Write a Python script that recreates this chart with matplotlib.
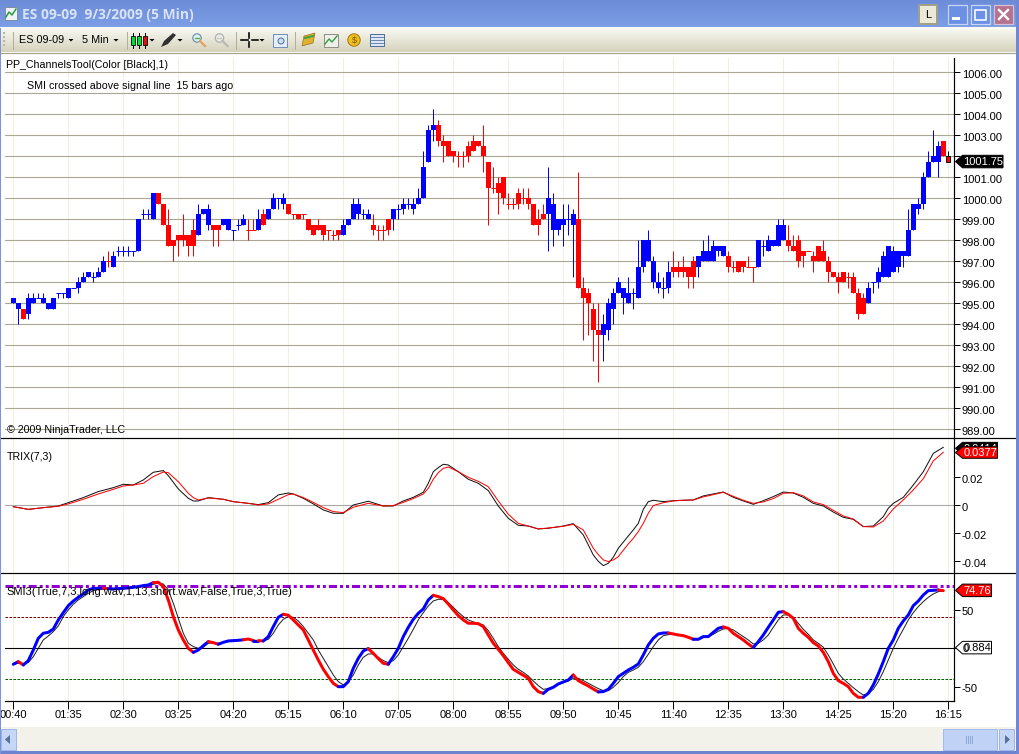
import matplotlib
matplotlib.use("Agg")
import matplotlib.pyplot as plt
from matplotlib.patches import Rectangle, Polygon, Circle
from matplotlib.transforms import ScaledTranslation
import numpy as np

# ---------- price bars (5 min) ----------
body_top = [
 995.25,995,994.75,995.25,995.25,995.25,995.25,995,995.25,995.5,
 995.5,995.75,995.75,996,996.25,996.5,996.25,996.5,997,997,
 997.25,997.5,997.5,997.5,997.5,999,999.25,999.25,1000.25,1000.25,
 999.75,998.75,998,998.25,998.25,998.25,998.5,999.25,999.5,999.5,
 998.75,998.75,999,999,998.5,998.75,999,998.5,998.5,999,
 999.25,999.5,1000,1000,1000,999.75,999.25,999.25,999.25,999,
 998.75,998.75,998.75,998.5,998.25,998.5,998.75,999,999.75,999.75,
 999.25,999.25,998.75,998.5,998.5,999,999.5,999.5,999.75,999.75,
 999.75,1000,1001.5,1003.25,1003.5,1003.5,1002.75,1002.75,1002.25,1002,
 1002,1002.5,1002.75,1002.75,1002.5,1001.75,1000.5,1000.75,1001,999.75,
 999.75,1000.25,1000,1000,999.75,999,999.25,1000,999.75,999,
 999,999,999.25,999,995.75,995.5,994.75,993.75,994,995,
 995.5,996,995.75,995.5,995.5,996.75,998,998,997,996,
 995.75,996.5,996.75,996.75,996.75,996.75,997,997.25,997.5,997.5,
 997.75,997.75,997.75,997.25,996.75,997,997,996.75,996.75,998,
 997.75,998,998,998.75,998.75,998,997.75,998,997.5,997.5,
 997.25,997.75,997.5,997,996.5,996.25,996.5,996.25,996.25,995.5,
 995.25,995.75,996,996.5,997.25,997.75,997.5,997.5,997.5,998.5,
 999.75,999.75,1001,1001.75,1002,1002.5,1002.75,1002]
body_bot = [
 995,994.75,994.25,994.5,995,995.25,995,994.75,994.75,995.5,
 995.5,995.25,995.75,995.75,996,996.25,996.25,996.25,996.5,997,
 996.75,997.5,997.5,997.5,997.5,997.5,999.25,999.25,999,999.75,
 998.75,997.75,997.75,998,998,997.75,997.75,998.25,999.25,998.75,
 998.5,998.5,998.75,998.5,998.5,998.75,998.75,998.5,998.5,998.5,
 998.75,999,999.5,1000,999.75,999.25,999.25,999,999.25,998.5,
 998.25,998.5,998.25,998.5,998.25,998.25,998.25,998.75,999,999.25,
 999.25,999,998.5,998.5,998.5,998.5,999,999.5,999.5,999.75,
 999.5,999.75,1000,1001.75,1003.25,1002.75,1002.5,1002,1002,1002,
 1002,1002,1002.25,1002.5,1002,1000.5,1000.5,1000.25,1000,999.75,
 999.75,999.75,1000,999.75,998.75,998.75,999,999.25,998.5,998.5,
 998.75,999,998.75,995.75,995.25,995,993.75,993.5,993.5,993.75,
 994.75,995.5,995.25,995,995.5,995.25,996.75,997,996,995.75,
 995.75,995.75,996.5,996.5,996.5,996.25,996.25,996.75,997,997,
 997,997.5,997.25,996.75,996.75,996.5,996.75,996.75,996.75,996.75,
 997.75,997.5,997.75,997.75,998,997.75,997.5,997,997.25,997.5,
 997,997,997,996.5,996.25,996,996,996.25,995.5,994.5,
 994.5,995,996,996,996.25,996.25,996.5,996.75,997.25,997.25,
 998.5,999.5,999.75,1001,1001.75,1001.75,1002,1001.75]
bar_high = [
 995.25,995,994.75,995.5,995.5,995.5,995.5,995,995.25,995.5,
 995.5,995.75,995.75,996.25,996.5,996.5,996.5,996.75,997.25,997.5,
 997.5,997.75,997.75,997.75,997.5,999,999.5,999.5,1000.25,1000.25,
 999.75,999.5,998,998.25,999.25,998.25,999,999.75,999.5,999.75,
 998.75,998.75,999,999,998.5,999,999.25,999,999,999.5,
 999.5,999.5,1000.25,1000,1000.25,999.75,999.25,999.25,999.25,999,
 998.75,999,998.75,998.5,998.5,998.5,999,999,1000,1000,
 999.5,999.5,999.25,998.75,998.75,999,999.5,999.75,1000,1000,
 1000,1000.5,1002.25,1003.5,1004.25,1003.75,1003,1002.75,1002.25,1002.25,
 1002.25,1002.75,1003,1002.75,1003.5,1001.75,1001.5,1001,1001,1000.25,
 1000,1000.5,1000.5,1000.5,999.75,999.5,999.75,1001.5,1000.25,999,
 999.75,999.75,999.5,1001.25,996.25,995.75,995,995,994.5,995.25,
 995.75,996.25,995.75,996.25,995.75,998,998,998.5,997.25,996.5,
 996.25,997,997.5,997,997.25,996.75,997.25,997.25,998,998.25,
 998,997.75,997.75,997.5,997,997,997,997.25,996.75,998,
 998,998.25,998,999,999,998.75,998.25,998.25,997.5,997.5,
 997.5,997.75,998,997.25,996.5,996.5,996.5,996.5,996.5,995.75,
 995.5,996,996,996.75,997.5,997.75,997.75,997.5,997.5,999.5,
 999.75,1000,1001.25,1002.25,1003.25,1002.75,1002.75,1002.25]
bar_low = [
 995,994,994.25,994.25,995,995.25,995,994.75,994.75,995.25,
 995.25,995.25,995.75,995.5,996,996.25,996,996.25,996.5,996.75,
 996.75,997.25,997.25,997.25,997.25,997.5,999,999,999,999.75,
 998.75,997.75,997,997.25,997.75,997.25,997.25,998.25,999.25,998.5,
 997.75,997.75,998.75,998.5,998,998.5,998.75,998,998.5,998.5,
 998.75,999,999.5,999.5,999.5,999.25,999,999,999,998.5,
 998.25,998.5,998,998,998,998,998.25,998.75,999,999,
 999,999,998.25,998,998,998.25,998.5,999,999.25,999.5,
 999.25,999.75,1000,1001.75,1002.75,1002.5,1001.75,1002,1001.75,1001.5,
 1001.5,1001.75,1002.25,1002.5,1001.25,998.75,1000.25,999.25,999.75,999.5,
 999.5,999.5,999.75,999.5,998.75,998.25,999,997.5,997.75,998.25,
 997.75,998.25,996.25,995.75,993.25,993.5,992.25,991.25,992.25,993.25,
 994,995.5,994.5,995,994.75,995.25,996.5,997,995.75,995.5,
 995.25,995.5,996.25,996.25,996.25,995.75,995.75,996.25,997,997,
 997,997.25,997.25,996.5,996.5,996.5,996.5,996.75,996,996.75,
 997.25,997.5,997.75,997.75,998,997.5,997.5,996.75,996.75,997.5,
 996.5,997,997,996,996.25,995.5,996,995.75,995.5,994.25,
 994.5,995,995.5,995.75,996.25,996.25,996.5,996.5,996.75,997.25,
 998.5,999.25,999.5,1001,1001.75,1001,1002,1001.75]
bar_dir = ("bbrbbbbbbb" "bbbbbbbbbr" "bbbbbbbbbr" "rrrrrrrbbb" "rrbbbbbrrb"
           "rbbbbrrrrr" "rrrrrrbbbb" "bbrrrrbbbb" "bbbbbrrrrr" "rrrrrrrrrr"
           "rrrrrrrbbb" "bbbrrrrrbb" "bbbbbbbbbb" "bbrrrrrbbb" "bbbrrrrrrb"
           "bbbbbrrrrr" "rrrrrrrrrr" "rbbbbbbbbb" "bbbbbbrr")
last_price = 1001.75

# ---------- TRIX(7,3) ----------
trix_idx = [0,3,6,9,11,14,17,20,22,24,26,28,30,31,33,35,36,37,39,42,44,47,49,51,53,55,56,58,60,62,64,
 66,68,71,74,76,78,80,82,83,84,85,86,87,89,91,93,95,97,99,101,103,105,107,110,112,114,116,117,118,119,120,121,123,124,125,126,127,128,130,132,
 134,136,138,140,142,144,146,148,150,152,154,156,158,160,162,164,166,168,170,172,174,175,176,178,180,182,184,186]
trix_main = [-.0010,-.0029,-.0017,-.0005,.0019,.0055,.0098,.0126,.0150,.0145,.0181,.0236,.0248,.0212,.0117,.0050,.0031,.0031,.0055,.0043,.0026,.0014,.0005,.0019,.0074,.0088,.0081,.0050,.0010,-.0033,-.0057,
 -.0057,.0002,.0029,-.0005,-.0005,.0031,.0057,.0093,.0157,.0240,.0269,.0293,.0288,.0240,.0186,.0157,.0105,-.0005,-.0093,-.0143,-.0148,-.0169,-.0164,-.0148,-.0131,-.0212,-.0355,-.0400,-.0431,-.0414,-.0371,-.0307,-.0219,-.0176,-.0129,-.0029,.0026,.0036,.0026,.0033,
 .0036,.0038,.0067,.0081,.0095,.0057,.0031,.0007,.0033,.0062,.0095,.0088,.0057,.0014,-.0005,-.0048,-.0086,-.0100,-.0152,-.0148,-.0081,-.0021,.0014,.0057,.0145,.0240,.0371,.0414]
trix_sig = [-.0010,-.0029,-.0017,-.0007,.0010,.0043,.0081,.0114,.0138,.0145,.0157,.0205,.0238,.0233,.0169,.0086,.0055,.0038,.0052,.0043,.0026,.0014,.0002,.0010,.0043,.0076,.0081,.0055,.0021,-.0017,-.0045,
 -.0052,-.0014,.0014,-.0005,-.0002,.0021,.0048,.0081,.0121,.0186,.0233,.0264,.0274,.0240,.0200,.0171,.0133,.0031,-.0064,-.0129,-.0148,-.0169,-.0162,-.0150,-.0136,-.0176,-.0307,-.0352,-.0390,-.0402,-.0390,-.0367,-.0276,-.0236,-.0188,-.0129,-.0057,-.0002,.0019,.0031,
 .0036,.0038,.0060,.0076,.0093,.0064,.0036,.0014,.0024,.0048,.0086,.0090,.0067,.0024,.0005,-.0036,-.0076,-.0098,-.0152,-.0155,-.0112,-.0069,-.0026,.0038,.0110,.0190,.0317,.0379]

# ---------- SMI ----------
smi_main = [-20.6,-17.2,-21.5,-15.9,-2.2,12.9,19.4,20.6,24.9,36.6,46,55,61,65.8,70.1,75.3,77.4,77.4,77.4,77,
 76.6,77,77.4,78,78.7,79.6,80.9,81.7,84.7,85.2,79.6,62.4,40.9,23.7,10.8,0,-5.2,-2.2,3.4,8.6,
 7.3,5.2,7.7,9.5,9.9,10.3,11,12,9.9,9.9,9.5,15.1,28,40,43.9,42.6,36.6,30.1,23.7,10.8,
 -2.2,-15.1,-27,-36.6,-45.2,-49.5,-49.5,-43,-25.8,-12.9,-3.4,-0.4,-6.5,-13.3,-19.4,-20.6,-10.8,0,15.1,27.1,
 37.4,45.2,50.8,62.4,68.4,66.7,64.1,57.2,49.5,42.2,36.6,32.3,32.3,31.8,28,17.2,6.5,-1.3,-9.5,-18.5,
 -27.1,-31,-34.8,-38.7,-49.5,-55.9,-58.1,-52.9,-50.3,-46,-43.4,-40.9,-34.4,-41.7,-45.2,-48.6,-52.5,-56.3,-55.9,-52.9,
 -45.2,-36.6,-32.3,-28,-24.5,-20.2,-8.6,4.3,12.9,18.5,19.8,19.8,18.5,17.2,16.3,14.2,11.6,11.6,15.1,15.1,
 20.6,25.8,27.5,25.8,19.4,15.1,10.8,5.6,0.9,8.6,17.2,27.1,36.6,46.5,47.3,43.9,38.7,25.8,19.4,14.2,
 7.3,3,-5.2,-17.2,-32.3,-41.7,-45.2,-49.5,-58.1,-63.2,-63.2,-58.1,-47.3,-33.1,-17.2,0,10.8,25.8,35.3,43,
 55,61,68.8,74.4,74.8,75.3,74.4]
smi_sig = [-20.6,-19.4,-19.4,-18.5,-10.8,0,10.8,15.9,21.5,28.8,40.9,49.5,56.8,62.4,66.7,71,74.4,75.7,76.6,76.6,
 76.6,77,77,77.4,78.3,79.6,80.4,81.7,82.6,83.9,83,75.3,58.1,38.7,19.4,6.5,2.2,0,1.3,6.5,
 7.3,6.5,7.7,8.6,9.5,9.9,10.8,11.6,10.8,9.9,9.5,11.6,19.4,30.1,37.4,40.9,40,35.3,28,19.4,
 10.8,-2.2,-12.9,-23.7,-34.4,-43,-47.3,-43,-34.4,-21.5,-11.6,-7.3,-7.3,-11.6,-15.9,-18.5,-15.9,-8.6,2.2,12.9,
 24.5,36.6,46,54.6,61.1,63.2,63.2,58.9,52.9,46.5,40.9,36.6,34,32.3,30.1,22.8,12.9,2.2,-6.5,-14.2,
 -21.5,-27.1,-31,-35.7,-42.2,-48.2,-52.9,-52,-49.5,-46.9,-44.3,-42.2,-38.7,-38.7,-41.7,-45.2,-48.6,-52,-54.6,-54.6,
 -50.3,-44.3,-36.6,-31,-28,-24.5,-17.2,-7.7,2.2,10.8,16.3,17.6,18.1,17.2,17.2,15.1,12.9,12.5,13.8,15.1,
 18.1,21.9,24.9,25.8,23.7,19.4,15.1,10.8,5.6,6.5,10.8,17.2,27.1,36.6,43,43,40,32.3,24.5,18.1,
 10.8,6.5,1.3,-8.6,-20.2,-32.3,-39.6,-45.2,-50.8,-55.9,-60.2,-58.9,-52.9,-43,-30.1,-15.1,0,12.9,24.5,36.6,
 46,53.8,60.2,65.8,70.1,73.1,74.4]
smi_upper, smi_zero, smi_lower, smi_top = 40, 0, -40, 80
smi_flag = 74.76
smi_other = 0.884
trix_flag, trix_flag2 = 0.0377, 0.0414

# ---------- tick labels ----------
time_labels = ["00:40","01:35","02:30","03:25","04:20","05:15","06:10","07:05","08:00",
               "08:55","09:50","10:45","11:40","12:35","13:30","14:25","15:20","16:15"]
time_ticks = [11*k for k in range(len(time_labels))]
price_ticks = list(range(989, 1007))
trix_ticks = [-0.04, -0.02, 0, 0.02]
smi_ticks = [-50, 0, 50]

# ---------- layout ----------
W, H = 1020, 754
FONT = "Liberation Sans"
plt.rcParams["font.family"] = FONT
fig = plt.figure(figsize=(W/100, H/100), dpi=100, facecolor="white")

BLUE, RED = "#0000ff", "#ff0000"
GRID_H, GRID_V = "#a9a694", "#f1f0e0"
LEFT, RIGHT = 5.0, 954.3
X0, DX = 13.3, 5.0
xlim = ((LEFT-X0)/DX, (RIGHT-X0)/DX)
PX = 1/100*72  # points per pixel

def axes_px(x0, y0, x1, y1):
    return fig.add_axes([x0/W, 1-y1/H, (x1-x0)/W, (y1-y0)/H], facecolor="none")

P_TOP, P_BOT = 58.0, 438.3
T_BOT, S_BOT = 573.3, 701.0

ax_p = axes_px(LEFT, P_TOP, RIGHT, P_BOT)
ax_t = axes_px(LEFT, P_BOT, RIGHT, T_BOT)
ax_s = axes_px(LEFT, T_BOT, RIGHT, S_BOT)

ax_p.set_ylim(1006-(P_BOT-72.3)/21, 1006+(72.3-P_TOP)/21)
ax_t.set_ylim((505.3-T_BOT)/1400, (505.3-P_BOT)/1400)
ax_s.set_ylim((648.3-S_BOT)/0.775, (648.3-T_BOT)/0.775)

for ax in (ax_p, ax_t, ax_s):
    ax.set_xlim(*xlim)
    ax.set_xticks(time_ticks)
    for s in ("top", "left"):
        ax.spines[s].set_visible(False)
    ax.spines["bottom"].set_visible(False)
    ax.spines["right"].set_linewidth(PX*1.2)
    ax.yaxis.tick_right()
    ax.tick_params(axis="y", length=4, width=PX, pad=1.5, labelsize=8.0, colors="black")
    ax.tick_params(axis="x", length=0, labelbottom=False)
    ax.xaxis.grid(True, color=GRID_V, lw=PX*1.1, zorder=0)
    ax.set_axisbelow(True)

# price panel
ax_p.set_yticks(price_ticks)
ax_p.set_yticklabels(["" if p == 1002 else f"{p:.2f}" for p in price_ticks])
ax_p.yaxis.grid(True, color=GRID_H, lw=PX*1.1)
idx = np.arange(len(body_top))
top = np.array(body_top); bot = np.array(body_bot)
hi = np.array(bar_high); lo = np.array(bar_low)
cols = np.array([BLUE if c == "b" else RED for c in bar_dir])
wick_cols = cols.copy()
wick_cols[-1] = "black"
ax_p.vlines(idx, lo, hi, colors=wick_cols, lw=PX*1.0, zorder=3)
ax_p.bar(idx[:-1], (top-bot)[:-1], bottom=bot[:-1], width=1.0, color=cols[:-1], lw=0, zorder=4)
ax_p.bar(idx[-1], top[-1]-bot[-1], bottom=bot[-1], width=0.8, color=RED, edgecolor="black", lw=PX*0.9, zorder=4)
doji = top == bot
ax_p.hlines(top[doji], idx[doji]-0.5, idx[doji]+0.5, colors=cols[doji], lw=PX*1.0, zorder=4)

# trix panel
ax_t.set_yticks(trix_ticks)
ax_t.set_yticklabels(["-0.04", "-0.02", "0", "0.02"])
ax_t.axhline(0, color="#a8a8a8", lw=PX*1.1, zorder=1)
ax_t.plot(trix_idx, trix_main, color="#101010", lw=PX*1.0, zorder=3)
ax_t.plot(trix_idx, trix_sig, color=RED, lw=PX*1.0, zorder=4)

# smi panel
ax_s.set_yticks(smi_ticks)
ax_s.set_yticklabels(["-50", "0", "50"])
ax_s.axhline(smi_zero, color="black", lw=PX*1.1, zorder=2)
ax_s.axhline(smi_upper, color="#7a0000", lw=PX*1.0, ls=(0, (2.6, 1.4)), zorder=2)
ax_s.axhline(smi_lower, color="#005a00", lw=PX*1.0, ls=(0, (2.6, 1.4)), zorder=2)
ax_s.axhline(smi_top, color="#9400d3", lw=PX*3.0, ls=(0, (2.7, 1.0, 1.0, 1.0, 1.0, 1.0)), zorder=3)
si = np.arange(len(smi_main))
ax_s.plot(si, smi_sig, color="#202020", lw=PX*1.0, zorder=4)
start = 0
for i in range(1, len(smi_main)+1):
    if i == len(smi_main) or bar_dir[i] != bar_dir[start+1]:
        ax_s.plot(si[start:i], smi_main[start:i], color=BLUE if bar_dir[start+1] == "b" else RED,
                  lw=PX*3.0, zorder=5, solid_capstyle="round", solid_joinstyle="round")
        start = i-1
ax_s.set_xticks(time_ticks)
ax_s.set_xticklabels(time_labels)
ax_s.spines["bottom"].set_visible(True)
ax_s.spines["bottom"].set_linewidth(PX*1.2)
ax_s.tick_params(axis="x", length=6, width=PX, pad=0.4, labelsize=8.0, labelbottom=True)
for lbl in ax_s.get_xticklabels():
    lbl.set_clip_on(False)

# nudge the right-hand tick labels to sit just below their ticks
nudge = ScaledTranslation(0, -1.3/100, fig.dpi_scale_trans)
for ax in (ax_p, ax_t, ax_s):
    for lbl in ax.get_yticklabels():
        lbl.set_transform(lbl.get_transform() + nudge)

TXT = dict(fontsize=7.65, va="center", ha="left", color="black")

# ---------- window chrome and overlays (pixel coordinates) ----------
ov = fig.add_axes([0, 0, 1, 1], facecolor="none", zorder=10)
ov.set_xlim(0, W); ov.set_ylim(H, 0); ov.axis("off")
bg = fig.add_axes([0, 0, 1, 1], facecolor="white", zorder=-5)
bg.set_xlim(0, W); bg.set_ylim(H, 0); bg.axis("off")

def grad(a, x0, y0, x1, y1, c_top, c_bot, z=1):
    c0 = np.array(matplotlib.colors.to_rgb(c_top)); c1 = np.array(matplotlib.colors.to_rgb(c_bot))
    t = np.linspace(0, 1, 32)[:, None, None]
    img = c0[None, None, :]*(1-t) + c1[None, None, :]*t
    a.imshow(img, extent=(x0, x1, y1, y0), aspect="auto", zorder=z, interpolation="bilinear")

def rect(a, x0, y0, x1, y1, fc, ec="none", lw=0, z=2):
    a.add_patch(Rectangle((x0, y0), x1-x0, y1-y0, fc=fc, ec=ec, lw=lw, zorder=z))

# title bar
grad(ov, 0, 0, W, 28, "#6d8cd8", "#7c9fe6")
ov.text(22, 15, "ES 09-09  9/3/2009 (5 Min)", fontsize=9.9, fontweight="bold", family="Open Sans",
        color="#d9e3f6", va="center", ha="left", zorder=3)
rect(ov, 5, 7, 17, 20, "#eef2fa", "#8090a0", PX)
ov.plot([6, 9, 12, 16], [17, 12, 15, 9], color="#2a9a3a", lw=PX*1.5, zorder=4)
# window buttons
rect(ov, 919, 5, 937, 24, "#ece9d8", "#a09f8c", PX*2)
ov.text(928, 15, "L", fontsize=8, ha="center", va="center", zorder=4)
rect(ov, 948, 5, 967, 24, "#6c90e4", "#c6d5f4", PX*1.2)
rect(ov, 952, 17, 960, 20, "white", z=4)
rect(ov, 971, 5, 990, 24, "#6c90e4", "#c6d5f4", PX*1.2)
rect(ov, 975, 10, 986, 20, "none", "white", PX*1.6, z=4)
rect(ov, 994, 5, 1013, 24, "#b4728f", "#d8c0d0", PX*1.2)
ov.plot([999, 1008], [10, 19], color="white", lw=PX*2.4, zorder=4)
ov.plot([999, 1008], [19, 10], color="white", lw=PX*2.4, zorder=4)

# toolbar
grad(ov, 0, 28, 1016, 52.5, "#fbfaf4", "#d5d3bd")
ov.plot([0, 1016], [52.5, 52.5], color="#a5a58a", lw=PX*1.2, zorder=3)
ov.plot([4, 4], [32, 48], color="#b8b6a4", lw=PX*2, ls=(0, (1, 1)), zorder=3)
for x in (13, 127, 236, 295):
    ov.plot([x, x], [32, 49], color="#b0ae9c", lw=PX, zorder=3)
ov.text(19, 40, "ES 09-09", fontsize=7.8, va="center", zorder=3)
ov.text(82, 40, "5 Min", fontsize=7.8, va="center", zorder=3)
for x in (71, 116, 152, 180, 262):
    ov.add_patch(Polygon([[x-2.5, 39], [x+2.5, 39], [x, 41.5]], fc="black", zorder=3))
for x, c in ((132.7, "#00e030"), (139, "#00e030"), (144.7, "#e01010")):
    ov.plot([x, x], [33, 48], color="black", lw=PX, zorder=3)
    rect(ov, x-2, 36, x+2, 45, c, "black", PX*0.8, z=4)
ov.add_patch(Polygon([[161, 47], [164, 41], [173, 33], [176, 35], [168, 44]], fc="#303030", zorder=3))
for x, c in ((197, "#58b050"), (219.5, "#c8c8c0")):
    ov.add_patch(Circle((x, 38), 4.2, fc="#dff0f8" if x < 200 else "#ececec", ec="#7090a8" if x < 200 else "#b0b0a8", lw=PX*1.2, zorder=3))
    ov.plot([x-2, x+2], [38, 38], color=c, lw=PX*1.4, zorder=4)
    ov.plot([x+3, x+8], [41, 46], color="#e0a060" if x < 200 else "#b8b8b0", lw=PX*2.2, zorder=3)
ov.plot([241, 248], [40, 40], color="black", lw=PX*1.6, zorder=3)
ov.plot([252, 258], [40, 40], color="black", lw=PX*1.6, zorder=3)
ov.plot([249.5, 249.5], [33, 38], color="black", lw=PX*1.6, zorder=3)
ov.plot([249.5, 249.5], [42, 47], color="black", lw=PX*1.6, zorder=3)
rect(ov, 273, 34, 287, 47, "#e6eef8", "#6f90b8", PX)
ov.add_patch(Circle((281, 41), 3, fc="#c8e0f0", ec="#5070a0", lw=PX, zorder=4))
ov.add_patch(Polygon([[302, 46], [304, 36], [315, 33], [313, 43]], fc="#e0b030", ec="#906010", lw=PX*0.6, zorder=3))
ov.plot([305, 313], [38, 36], color="#40a040", lw=PX*2, zorder=4)
rect(ov, 324, 34, 338, 47, "#f0f0ea", "#909088", PX)
ov.plot([325, 329, 332, 337], [44, 39, 42, 36], color="#30a040", lw=PX*1.4, zorder=4)
ov.add_patch(Circle((354, 40), 6.2, fc="#f0c020", ec="#a07810", lw=PX, zorder=3))
ov.text(354, 40, "$", fontsize=6.5, ha="center", va="center", color="#7a5800", zorder=4)
rect(ov, 370, 34, 384, 46, "#dce6f4", "#50709a", PX)
for y in (37, 40, 43):
    ov.plot([371, 383], [y, y], color="#50709a", lw=PX*0.8, zorder=4)

# panel separators
for y in (P_BOT, T_BOT):
    ov.plot([0, 1016], [y, y], color="black", lw=PX*1.2, zorder=3)

# captions
ov.text(6, 65.5, "PP_ChannelsTool(Color [Black],1)", zorder=3, **TXT)
ov.text(27, 86, "SMI crossed above signal line  15 bars ago", zorder=3, **TXT)
ov.text(7, 430, "\u00a9 2009 NinjaTrader, LLC", zorder=3, **TXT)
ov.text(7, 457, "TRIX(7,3)", zorder=3, **TXT)
ov.text(6, 592, "SMI3(True,7,3,long.wav,1,13,short.wav,False,True,3,True)", zorder=3,
        fontsize=8.0, va="center", ha="left", color="black")

# value flags, located from the panel scales
def ypx(ax, v):
    return fig.bbox.height - ax.transData.transform((0, v))[1]

def flag(y, x1, h, fc, ec, tc, label, z=6):
    xs = [955.5, 962.5, x1, x1, 962.5]
    ys = [y, y-h/2, y-h/2, y+h/2, y+h/2]
    ov.add_patch(Polygon(np.column_stack([xs, ys]), fc=fc, ec=ec, lw=PX, zorder=z))
    ov.text(963.5, y+0.5, label, fontsize=8.0, color=tc, va="center", ha="left", zorder=z+1)

flag(ypx(ax_p, last_price), 1003, 12.5, "black", "black", "white", f"{last_price:.2f}")
flag(ypx(ax_t, trix_flag2)+1, 997.5, 12, "black", "black", "white", f"{trix_flag2:.4f}", z=5)
flag(ypx(ax_t, trix_flag), 997.5, 11.5, RED, "black", "white", f"{trix_flag:.4f}", z=7)
flag(ypx(ax_s, smi_flag), 991.5, 12.5, RED, "black", "white", f"{smi_flag:.2f}")
flag(ypx(ax_s, smi_other), 991.5, 12.5, "white", "black", "black", f"{smi_other:.3f}")
ov.text(962.5, ypx(ax_s, smi_zero)+0.5, "0", fontsize=8.0, va="center", zorder=8)

# bottom scroll area and window border
rect(ov, 0, 727, 1016, 751, "#f3f2ea", z=2)
rect(ov, 1, 729, 16, 750, "#c6d6f6", "#9fb6e6", PX)
ov.add_patch(Polygon([[5, 739.5], [10, 735], [10, 744]], fc="#5a6f96", zorder=4))
rect(ov, 943, 729, 997, 750, "#c0d2f6", "#a3bbea", PX)
for x in (966, 968, 970, 972):
    ov.plot([x, x], [736, 743], color="#8ea6d4", lw=PX, zorder=4)
rect(ov, 999, 729, 1014, 750, "#c6d6f6", "#9fb6e6", PX)
ov.add_patch(Polygon([[1010, 739.5], [1005, 735], [1005, 744]], fc="#5a6f96", zorder=4))
rect(ov, 0, 751, W, H, "#6d83d0", z=5)
rect(ov, 1016, 0, W, H, "#6f88d6", z=5)
rect(ov, 0, 28, 1.5, H, "#7b93dc", z=5)

ov.set_xlim(0, W); ov.set_ylim(H, 0)
bg.set_xlim(0, W); bg.set_ylim(H, 0)
fig.savefig("out.png", dpi=100, facecolor="white")
